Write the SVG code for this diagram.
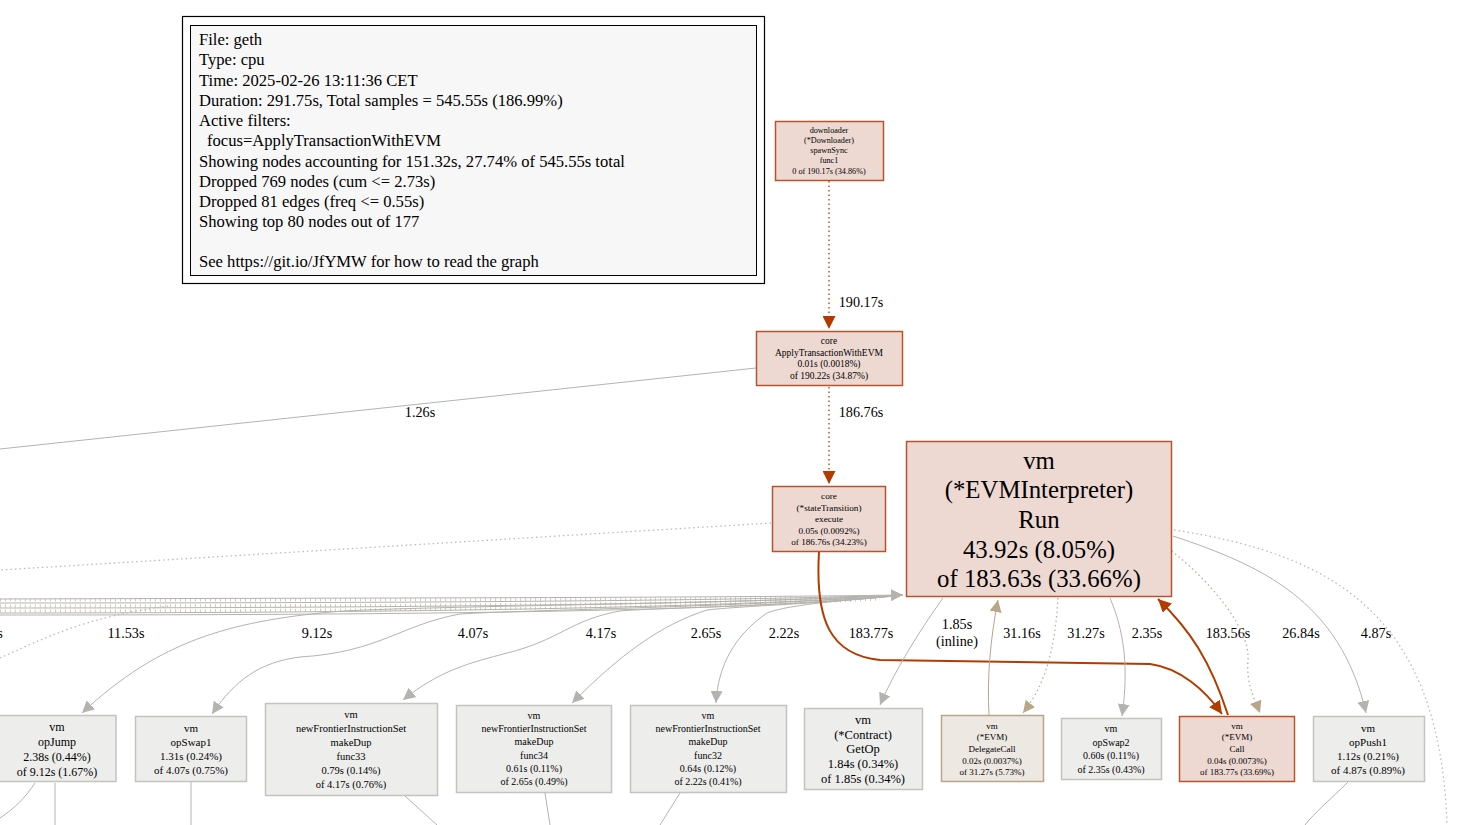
<svg xmlns="http://www.w3.org/2000/svg" width="1461" height="825" viewBox="0 0 1461 825">
<defs>
<style>
text{font-family:"Liberation Serif","Times New Roman",serif;fill:#000;text-anchor:middle}
.leg{text-anchor:start;font-size:16.6px}
.lbl{font-size:14.2px}
.hot rect{fill:#edd9d2;stroke:#b8542c;stroke-width:1.5}
.cold rect{fill:#ededec;stroke:#c4c3c0;stroke-width:1.5}
.tan rect{fill:#ede8e2;stroke:#b8a688;stroke-width:1.5}
.e{fill:none;stroke:#b5b3ae;stroke-width:1}
.er{fill:none;stroke:#b23c00;stroke-width:2}
.ed{fill:none;stroke:#b23c00;stroke-width:1.3;stroke-dasharray:1.5,3}
.eg{fill:none;stroke:#bdbab4;stroke-width:1.3;stroke-dasharray:1.5,3}
.et{fill:none;stroke:#b8a688;stroke-width:1}
.etd{fill:none;stroke:#c0ad90;stroke-width:1.3;stroke-dasharray:1.5,3}
.tick{fill:none;stroke:#cdcac4;stroke-width:3;stroke-dasharray:1,4}
</style>
<marker id="ag" viewBox="0 0 10 10" refX="10" refY="5" markerWidth="12" markerHeight="12" markerUnits="userSpaceOnUse" orient="auto"><path d="M0,0L10,5L0,10z" fill="#b5b3ae"/></marker>
<marker id="ar" viewBox="0 0 10 10" refX="10" refY="5" markerWidth="13" markerHeight="13" markerUnits="userSpaceOnUse" orient="auto"><path d="M0,0L10,5L0,10z" fill="#b23c00"/></marker>
<marker id="at" viewBox="0 0 10 10" refX="10" refY="5" markerWidth="12" markerHeight="12" markerUnits="userSpaceOnUse" orient="auto"><path d="M0,0L10,5L0,10z" fill="#b8a688"/></marker>
</defs>
<rect width="1461" height="825" fill="#fff"/>

<g id="legend">
<rect x="182.5" y="16.5" width="582" height="267" fill="#fff" stroke="#000" stroke-width="1.2"/>
<rect x="190.5" y="25.5" width="566" height="250" fill="#f7f7f7" stroke="#000" stroke-width="1"/>
<text class="leg" x="199" y="45">File: geth</text>
<text class="leg" x="199" y="65">Type: cpu</text>
<text class="leg" x="199" y="86">Time: 2025-02-26 13:11:36 CET</text>
<text class="leg" x="199" y="106">Duration: 291.75s, Total samples = 545.55s (186.99%)</text>
<text class="leg" x="199" y="126">Active filters:</text>
<text class="leg" x="207" y="146">focus=ApplyTransactionWithEVM</text>
<text class="leg" x="199" y="167">Showing nodes accounting for 151.32s, 27.74% of 545.55s total</text>
<text class="leg" x="199" y="187">Dropped 769 nodes (cum &lt;= 2.73s)</text>
<text class="leg" x="199" y="207">Dropped 81 edges (freq &lt;= 0.55s)</text>
<text class="leg" x="199" y="227">Showing top 80 nodes out of 177</text>
<text class="leg" x="199" y="267">See https://git.io/JfYMW for how to read the graph</text>
</g>

<g id="edges">
<path class="ed" d="M829,181 L829,329" marker-end="url(#ar)"/>
<text class="lbl" x="861" y="307">190.17s</text>
<path class="ed" d="M829,387 L829,484" marker-end="url(#ar)"/>
<text class="lbl" x="861" y="417">186.76s</text>
<path class="e" d="M756,368 L0,449"/>
<text class="lbl" x="420" y="417">1.26s</text>
<path class="eg" d="M771,523 L0,570"/>
<path class="tick" d="M0,600 C300,600 700,600 880,597"/>
<path class="tick" d="M0,606 C300,606 700,605 880,598"/>
<path class="tick" d="M0,611 C300,611 700,609 880,599"/>
<path class="e" d="M0,599 C300,598 700,598 903,595" marker-end="url(#ag)"/>
<path class="e" d="M0,603 C300,603 700,602 903,595"/>
<path class="e" d="M0,608 C300,608 700,606 903,595"/>
<path class="e" d="M0,613 C300,613 700,610 903,595"/>
<path class="e" d="M0,615 C400,615 750,612 903,595"/>
<path class="eg" d="M0,658 C40,640 90,615 170,606"/>
<text class="lbl" x="0" y="638">s</text>
<path class="e" d="M903,595 C700,605 400,606 330,612 C230,622 160,640 82,713" marker-end="url(#ag)"/>
<text class="lbl" x="126" y="638">11.53s</text>
<path class="e" d="M903,595 C750,607 520,610 460,614 C400,625 380,652 300,657 C260,662 235,680 212,714" marker-end="url(#ag)"/>
<text class="lbl" x="317" y="638">9.12s</text>
<path class="e" d="M903,595 C800,606 650,608 620,611 C570,620 560,640 507,653 C470,663 440,670 403,700" marker-end="url(#ag)"/>
<text class="lbl" x="473" y="638">4.07s</text>
<path class="e" d="M903,595 C820,604 740,606 707,610 C660,625 620,655 572,703" marker-end="url(#ag)"/>
<text class="lbl" x="601" y="638">4.17s</text>
<path class="e" d="M903,595 C850,600 790,604 767,613 C735,635 718,665 716,703" marker-end="url(#ag)"/>
<text class="lbl" x="706" y="638">2.65s</text>
<text class="lbl" x="784" y="638">2.22s</text>
<path class="er" d="M819,552 C815,620 830,655 880,660 L1150,664 C1180,668 1205,690 1222,714" marker-end="url(#ar)"/>
<text class="lbl" x="871" y="638">183.77s</text>
<path class="e" d="M943,598 C920,630 895,670 880,705" marker-end="url(#ag)"/>
<text class="lbl" x="957" y="629">1.85s</text>
<text class="lbl" x="957" y="646">(inline)</text>
<path class="et" d="M989,715 C987,680 990,640 998,600" marker-end="url(#at)"/>
<text class="lbl" x="1022" y="638">31.16s</text>
<path class="etd" d="M1058,598 C1055,650 1045,685 1023,713" marker-end="url(#at)"/>
<text class="lbl" x="1086" y="638">31.27s</text>
<path class="e" d="M1110,598 C1128,640 1127,680 1122,716" marker-end="url(#ag)"/>
<text class="lbl" x="1147" y="638">2.35s</text>
<path class="er" d="M1228,715 C1210,660 1190,630 1158,599" marker-end="url(#ar)"/>
<text class="lbl" x="1228" y="638">183.56s</text>
<path class="etd" d="M1168,548 C1215,585 1250,630 1248,660 C1246,685 1255,700 1260,713" marker-end="url(#at)"/>
<text class="lbl" x="1301" y="638">26.84s</text>
<path class="e" d="M1173,536 C1260,565 1340,600 1366,713" marker-end="url(#ag)"/>
<text class="lbl" x="1376" y="638">4.87s</text>
<path class="eg" d="M1174,530 C1340,555 1440,620 1447,825"/>
<path class="e" d="M35,783 C25,798 15,808 0,818"/>
<path class="e" d="M55,783 L55,825"/>
<path class="e" d="M191,782 L191,825"/>
<path class="e" d="M405,796 L437,825"/>
<path class="e" d="M545,793 L550,825"/>
<path class="e" d="M680,793 L660,825"/>
<path class="e" d="M1348,782 C1330,800 1315,812 1305,825"/>
</g>

<g id="n-downloader" class="hot">
<rect x="775.5" y="121.5" width="108" height="59"/>
<text x="829" y="133" font-size="8.2">downloader</text>
<text x="829" y="143" font-size="8.2">(*Downloader)</text>
<text x="829" y="153" font-size="8.2">spawnSync</text>
<text x="829" y="163" font-size="8.2">func1</text>
<text x="829" y="174" font-size="8.2">0 of 190.17s (34.86%)</text>
</g>

<g id="n-apply" class="hot">
<rect x="756.5" y="331.5" width="146" height="54"/>
<text x="829" y="344" font-size="9.5">core</text>
<text x="829" y="356" font-size="9.5">ApplyTransactionWithEVM</text>
<text x="829" y="367" font-size="9.5">0.01s (0.0018%)</text>
<text x="829" y="379" font-size="9.5">of 190.22s (34.87%)</text>
</g>

<g id="n-execute" class="hot">
<rect x="772.5" y="486.5" width="113" height="65"/>
<text x="829" y="499" font-size="9.2">core</text>
<text x="829" y="511" font-size="9.2">(*stateTransition)</text>
<text x="829" y="522" font-size="9.2">execute</text>
<text x="829" y="534" font-size="9.2">0.05s (0.0092%)</text>
<text x="829" y="545" font-size="9.2">of 186.76s (34.23%)</text>
</g>

<g id="n-run" class="hot">
<rect x="906.5" y="441.5" width="265" height="155"/>
<text x="1039" y="469" font-size="24.8">vm</text>
<text x="1039" y="498" font-size="24.8">(*EVMInterpreter)</text>
<text x="1039" y="528" font-size="24.8">Run</text>
<text x="1039" y="558" font-size="24.8">43.92s (8.05%)</text>
<text x="1039" y="587" font-size="24.8">of 183.63s (33.66%)</text>
</g>

<g id="n-opjump" class="cold">
<rect x="-2" y="715.5" width="118" height="66"/>
<text x="57" y="731" font-size="12">vm</text>
<text x="57" y="746" font-size="12">opJump</text>
<text x="57" y="761" font-size="12">2.38s (0.44%)</text>
<text x="57" y="776" font-size="12">of 9.12s (1.67%)</text>
</g>

<g id="n-opswap1" class="cold">
<rect x="135.5" y="716.5" width="111" height="65"/>
<text x="191" y="732" font-size="11">vm</text>
<text x="191" y="746" font-size="11">opSwap1</text>
<text x="191" y="760" font-size="11">1.31s (0.24%)</text>
<text x="191" y="774" font-size="11">of 4.07s (0.75%)</text>
</g>

<g id="n-func33" class="cold">
<rect x="265.5" y="703.5" width="172" height="92"/>
<text x="351" y="718" font-size="10.5">vm</text>
<text x="351" y="732" font-size="10.5">newFrontierInstructionSet</text>
<text x="351" y="746" font-size="10.5">makeDup</text>
<text x="351" y="760" font-size="10.5">func33</text>
<text x="351" y="774" font-size="10.5">0.79s (0.14%)</text>
<text x="351" y="788" font-size="10.5">of 4.17s (0.76%)</text>
</g>

<g id="n-func34" class="cold">
<rect x="456.5" y="705.5" width="155" height="87"/>
<text x="534" y="719" font-size="10">vm</text>
<text x="534" y="732" font-size="10">newFrontierInstructionSet</text>
<text x="534" y="745" font-size="10">makeDup</text>
<text x="534" y="759" font-size="10">func34</text>
<text x="534" y="772" font-size="10">0.61s (0.11%)</text>
<text x="534" y="785" font-size="10">of 2.65s (0.49%)</text>
</g>

<g id="n-func32" class="cold">
<rect x="630.5" y="705.5" width="156" height="87"/>
<text x="708" y="719" font-size="10">vm</text>
<text x="708" y="732" font-size="10">newFrontierInstructionSet</text>
<text x="708" y="745" font-size="10">makeDup</text>
<text x="708" y="759" font-size="10">func32</text>
<text x="708" y="772" font-size="10">0.64s (0.12%)</text>
<text x="708" y="785" font-size="10">of 2.22s (0.41%)</text>
</g>

<g id="n-getop" class="cold">
<rect x="804.5" y="708.5" width="118" height="81"/>
<text x="863" y="724" font-size="12.5">vm</text>
<text x="863" y="739" font-size="12.5">(*Contract)</text>
<text x="863" y="753" font-size="12.5">GetOp</text>
<text x="863" y="768" font-size="12.5">1.84s (0.34%)</text>
<text x="863" y="783" font-size="12.5">of 1.85s (0.34%)</text>
</g>

<g id="n-delegatecall" class="tan">
<rect x="941.5" y="715.5" width="102" height="66"/>
<text x="992" y="729" font-size="9">vm</text>
<text x="992" y="740" font-size="9">(*EVM)</text>
<text x="992" y="752" font-size="9">DelegateCall</text>
<text x="992" y="764" font-size="9">0.02s (0.0037%)</text>
<text x="992" y="775" font-size="9">of 31.27s (5.73%)</text>
</g>

<g id="n-opswap2" class="cold">
<rect x="1061.5" y="718.5" width="100" height="61"/>
<text x="1111" y="732" font-size="10">vm</text>
<text x="1111" y="746" font-size="10">opSwap2</text>
<text x="1111" y="759" font-size="10">0.60s (0.11%)</text>
<text x="1111" y="773" font-size="10">of 2.35s (0.43%)</text>
</g>

<g id="n-call" class="hot">
<rect x="1179.5" y="716.5" width="115" height="65"/>
<text x="1237" y="729" font-size="9">vm</text>
<text x="1237" y="740" font-size="9">(*EVM)</text>
<text x="1237" y="752" font-size="9">Call</text>
<text x="1237" y="764" font-size="9">0.04s (0.0073%)</text>
<text x="1237" y="775" font-size="9">of 183.77s (33.69%)</text>
</g>

<g id="n-oppush1" class="cold">
<rect x="1313.5" y="716.5" width="111" height="65"/>
<text x="1368" y="732" font-size="11">vm</text>
<text x="1368" y="746" font-size="11">opPush1</text>
<text x="1368" y="760" font-size="11">1.12s (0.21%)</text>
<text x="1368" y="774" font-size="11">of 4.87s (0.89%)</text>
</g>
</svg>
